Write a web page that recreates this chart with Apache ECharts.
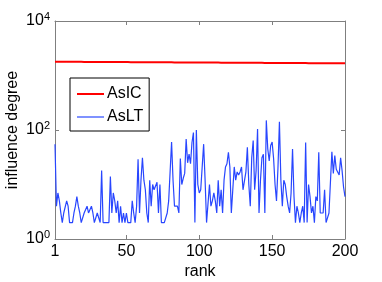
<!DOCTYPE html>
<html>
<head>
<meta charset="utf-8">
<script src="https://cdn.jsdelivr.net/npm/echarts@6/dist/echarts.min.js"></script>
<style>
html,body{margin:0;padding:0;background:#fff;}
#chart{width:382px;height:282px;}
</style>
</head>
<body>
<div id="chart"></div>
<script>
const seriesNames = ['AsIC', 'AsLT'];
const xTickValues = [1, 50, 100, 150, 200];
const yTickValues = [1, 100, 10000];
const ranks = Array.from({length: 200}, (_, i) => i + 1);

const asIC = [
  1790,1789,1789,1788,1787,1787,1786,1786,1785,1784,
  1784,1783,1783,1782,1781,1781,1780,1780,1779,1778,
  1778,1777,1777,1776,1775,1775,1774,1774,1773,1772,
  1772,1771,1771,1770,1769,1769,1768,1768,1767,1766,
  1766,1765,1765,1764,1763,1763,1762,1762,1761,1760,
  1760,1759,1759,1758,1757,1757,1756,1756,1755,1754,
  1754,1753,1753,1752,1751,1751,1750,1750,1749,1748,
  1748,1747,1747,1746,1745,1745,1744,1744,1743,1742,
  1742,1741,1741,1740,1739,1739,1738,1738,1737,1736,
  1736,1735,1735,1734,1733,1733,1732,1732,1731,1730,
  1730,1729,1729,1728,1727,1727,1726,1726,1725,1724,
  1724,1723,1723,1722,1721,1721,1720,1720,1719,1718,
  1718,1717,1717,1716,1715,1715,1714,1714,1713,1712,
  1712,1711,1711,1710,1709,1709,1708,1708,1707,1706,
  1706,1705,1705,1704,1703,1703,1702,1702,1701,1700,
  1700,1699,1699,1698,1697,1697,1696,1696,1695,1694,
  1694,1693,1693,1692,1691,1691,1690,1690,1689,1688,
  1688,1687,1687,1686,1685,1685,1684,1684,1683,1682,
  1682,1681,1681,1680,1679,1679,1678,1678,1677,1676,
  1676,1675,1675,1674,1673,1673,1672,1672,1671,1670
];

const asLT = [
  55,4,7,5,3,2,3,3,5,4,
  2,2,2,3,4,6,4,3,2,2,
  3,3,4,3,3,4,3,2,2,3,
  3,2,18,2,2,2,2,2,14,3,
  7,5,3,5,2,4,2,3,2,3,
  2,2,2,5,3,2,4,29,3,12,
  31,12,8,3,2,12,4,10,8,8,
  11,3,10,2,2,2,2,3,5,5,
  60,12,4,4,4,3,30,10,13,16,
  68,25,36,24,59,90,2,100,10,7,
  8,8,55,12,2,2,10,4,5,7,
  5,3,12,4,8,3,12,21,24,39,
  21,3,8,21,12,17,15,17,21,8,
  8,17,48,10,4,31,64,8,18,104,
  3,12,31,36,3,150,45,27,52,60,
  30,10,5,20,142,12,4,12,10,6,
  4,3,7,45,6,2,4,3,2,3,
  4,2,59,2,10,6,3,4,2,6,
  5,39,3,3,3,8,2,2,3,3,
  40,16,34,19,20,15,31,18,9,6
];

const FONT = 'Liberation Sans';
const axisGray = '#7f7f7f';
const redColor = '#ff0000';
const blueColor = '#2846ff';

const chart = echarts.init(document.getElementById('chart'), null, {renderer: 'canvas'});

function supLabel(v) {
  const e = Math.round(Math.log10(v));
  return '{b|10}{s|' + e + '}';
}

const xAxisCommon = {
  type: 'value', min: 1, max: 200,
  splitLine: {show: false},
  axisLine: {lineStyle: {color: axisGray, width: 1}},
  axisTick: {inside: true, length: 4, customValues: xTickValues, lineStyle: {color: axisGray}}
};
const yAxisCommon = {
  type: 'log', logBase: 10, min: 1, max: 10000,
  splitLine: {show: false},
  minorTick: {show: false},
  axisLine: {show: true, lineStyle: {color: axisGray, width: 1}},
  axisTick: {inside: true, length: 4, customValues: yTickValues, lineStyle: {color: axisGray}}
};

chart.setOption({
  animation: false,
  backgroundColor: '#ffffff',
  textStyle: {fontFamily: FONT},
  grid: {left: 55, right: 37, top: 21, bottom: 43, containLabel: false, outerBoundsMode: 'none'},
  legend: {
    orient: 'vertical',
    left: 70, top: 78,
    padding: [7, 6, 5, 7],
    itemGap: 5,
    itemWidth: 27,
    itemHeight: 2,
    icon: 'rect',
    backgroundColor: '#ffffff',
    borderColor: '#000000',
    borderWidth: 1,
    borderRadius: 0,
    textStyle: {fontFamily: FONT, fontSize: 16, color: '#000', lineHeight: 18, padding: [0,0,0,-2]},
    data: [
      {name: seriesNames[0], itemStyle: {color: redColor}},
      {name: seriesNames[1], itemStyle: {color: '#7f92ff'}}
    ]
  },
  xAxis: [
    Object.assign({}, xAxisCommon, {
      position: 'bottom',
      name: 'rank', nameLocation: 'middle', nameGap: 25, nameMoveOverlap: false,
      nameTextStyle: {fontFamily: FONT, fontSize: 16, color: '#000'},
      axisLabel: {customValues: xTickValues, fontFamily: FONT, fontSize: 16, color: '#000', margin: 5}
    }),
    Object.assign({}, xAxisCommon, {
      position: 'top',
      axisLabel: {show: false}
    })
  ],
  yAxis: [
    Object.assign({}, yAxisCommon, {
      position: 'left',
      name: 'influence degree', nameLocation: 'middle', nameGap: 34, nameMoveOverlap: false,
      nameTextStyle: {fontFamily: FONT, fontSize: 16, color: '#000'},
      axisLabel: {
        customValues: yTickValues,
        formatter: supLabel,
        margin: 5,
        color: '#000',
        rich: {
          b: {fontFamily: FONT, fontSize: 16, color: '#000', lineHeight: 18},
          s: {fontFamily: FONT, fontSize: 11, color: '#000', verticalAlign: 'top', padding: [0,0,8,0]}
        }
      }
    }),
    Object.assign({}, yAxisCommon, {
      position: 'right',
      axisLabel: {show: false}
    })
  ],
  series: [
    {
      name: 'AsIC', type: 'line', xAxisIndex: 0, yAxisIndex: 0,
      data: ranks.map((r, i) => [r, asIC[i]]),
      symbol: 'none', showSymbol: false,
      lineStyle: {color: redColor, width: 2},
      itemStyle: {color: redColor},
      z: 3
    },
    {
      name: 'AsLT', type: 'line', xAxisIndex: 0, yAxisIndex: 0,
      data: ranks.map((r, i) => [r, asLT[i]]),
      symbol: 'none', showSymbol: false,
      lineStyle: {color: blueColor, width: 1.2},
      itemStyle: {color: blueColor},
      z: 2
    }
  ]
});
</script>
</body>
</html>
